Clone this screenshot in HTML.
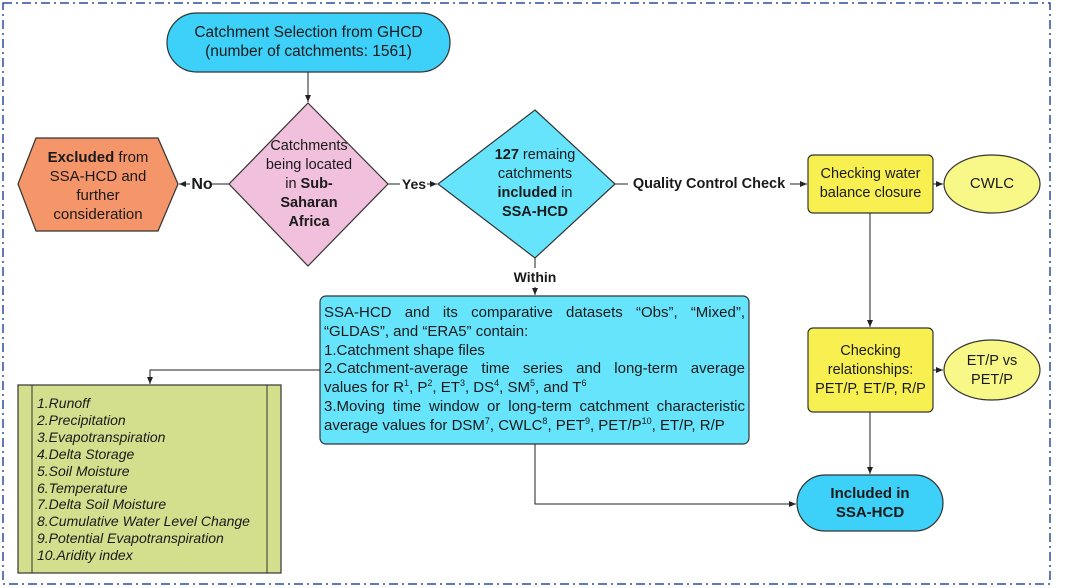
<!DOCTYPE html>
<html><head><meta charset="utf-8"><style>
body{margin:0;width:1065px;height:588px;background:#fff;position:relative;overflow:hidden;font-family:"Liberation Sans",Arial,sans-serif;color:#1a1a1a}
.t{position:absolute;text-align:center;line-height:1.2}
svg{position:absolute;left:0;top:0}
sup{font-size:9px;line-height:0}
</style></head><body>
<svg width="1065" height="588" viewBox="0 0 1065 588">
<defs><marker id="a" markerWidth="8" markerHeight="8" refX="7" refY="4" orient="auto" markerUnits="userSpaceOnUse"><path d="M0,1 L7,4 L0,7 z" fill="#222"/></marker></defs>
<rect x="3" y="3" width="1047" height="581" fill="none" stroke="#2b4fa0" stroke-width="1.5" stroke-dasharray="9,4,2,4"/>
<rect x="167" y="13" width="283" height="59" rx="29.5" fill="#3dd0f8" stroke="#333" stroke-width="1.2"/>
<polygon points="308,103 388,184 308,266 229,184" fill="#f0c0dc" stroke="#333" stroke-width="1.2"/>
<polygon points="18,184 36,138 158,138 178,184 158,231 36,231" fill="#f4956a" stroke="#333" stroke-width="1.2"/>
<polygon points="535,110 615,184 535,258 438,184" fill="#66e4fc" stroke="#333" stroke-width="1.2"/>
<rect x="320" y="296" width="429" height="148" rx="6" fill="#66e4fc" stroke="#333" stroke-width="1.2"/>
<rect x="18" y="385" width="263" height="188" fill="#d4df8e" stroke="#333" stroke-width="1.2"/>
<line x1="32" y1="385" x2="32" y2="573" stroke="#333"/><line x1="267" y1="385" x2="267" y2="573" stroke="#333"/>
<rect x="808" y="155" width="125" height="58" rx="5" fill="#f8f050" stroke="#333" stroke-width="1.2"/>
<ellipse cx="992" cy="184" rx="48" ry="29" fill="#f8f888" stroke="#333" stroke-width="1.2"/>
<rect x="808" y="328" width="125" height="84" rx="5" fill="#f8f050" stroke="#333" stroke-width="1.2"/>
<ellipse cx="992" cy="370" rx="48" ry="30" fill="#f8f888" stroke="#333" stroke-width="1.2"/>
<rect x="797" y="475" width="146" height="56" rx="28" fill="#3dd0f8" stroke="#333" stroke-width="1.2"/>
<g stroke="#222" stroke-width="1" fill="none">
<line x1="308" y1="72" x2="308" y2="102" marker-end="url(#a)"/>
<line x1="229" y1="184" x2="212" y2="184"/><line x1="190" y1="184" x2="179" y2="184" marker-end="url(#a)"/>
<line x1="388" y1="184" x2="400" y2="184"/><line x1="427" y1="184" x2="437" y2="184" marker-end="url(#a)"/>
<line x1="615" y1="184" x2="628" y2="184"/><line x1="790" y1="184" x2="807" y2="184" marker-end="url(#a)"/>
<line x1="535" y1="258" x2="535" y2="268"/><line x1="535" y1="287" x2="535" y2="295" marker-end="url(#a)"/>
<polyline points="320,370 150,370 150,384" marker-end="url(#a)"/>
<polyline points="535,444 535,504 796,504" marker-end="url(#a)"/>
<line x1="933" y1="184" x2="943" y2="184" marker-end="url(#a)"/>
<line x1="870" y1="213" x2="870" y2="327" marker-end="url(#a)"/>
<line x1="933" y1="370" x2="943" y2="370" marker-end="url(#a)"/>
<line x1="870" y1="412" x2="870" y2="474" marker-end="url(#a)"/>
</g>
</svg>
<div class="t" style="left:167px;top:24px;width:283px;font-size:15.5px">Catchment Selection from GHCD<br>(number of catchments: 1561)</div>
<div class="t" style="left:18px;top:148px;width:160px;font-size:15px;line-height:19px"><b>Excluded</b> from<br>SSA-HCD and<br>further<br>consideration</div>
<div class="t" style="left:250px;top:137px;width:118px;font-size:14.5px;line-height:19px">Catchments<br>being located<br>in <b>Sub-<br>Saharan<br>Africa</b></div>
<div class="t" style="left:190px;top:175px;width:24px;font-size:16px;font-weight:bold">No</div>
<div class="t" style="left:399px;top:176px;width:30px;font-size:14px;font-weight:bold">Yes</div>
<div class="t" style="left:468px;top:146px;width:134px;font-size:14.5px;line-height:19px"><b>127</b> remaing<br>catchments<br><b>included</b> in<br><b>SSA-HCD</b></div>
<div class="t" style="left:628px;top:176px;width:162px;font-size:14.5px;font-weight:bold">Quality Control Check</div>
<div class="t" style="left:505px;top:269px;width:60px;font-size:14px;font-weight:bold">Within</div>
<div style="position:absolute;left:324px;top:304px;width:421px;font-size:15px;line-height:18.8px;text-align:justify">SSA-HCD and its comparative datasets “Obs”, “Mixed”, “GLDAS”, and “ERA5” contain:<br>1.Catchment shape files<br><span style="display:block;text-align:justify;text-align-last:justify">2.Catchment-average time series and long-term average</span>values for R<sup>1</sup>, P<sup>2</sup>, ET<sup>3</sup>, DS<sup>4</sup>, SM<sup>5</sup>, and T<sup>6</sup><br><span style="display:block;text-align:justify;text-align-last:justify">3.Moving time window or long-term catchment characteristic</span>average values for DSM<sup>7</sup>, CWLC<sup>8</sup>, PET<sup>9</sup>, PET/P<sup>10</sup>, ET/P, R/P</div>
<div style="position:absolute;left:37px;top:395px;font-size:14px;line-height:16.9px;font-style:italic">1.Runoff<br>2.Precipitation<br>3.Evapotranspiration<br>4.Delta Storage<br>5.Soil Moisture<br>6.Temperature<br>7.Delta Soil Moisture<br>8.Cumulative Water Level Change<br>9.Potential Evapotranspiration<br>10.Aridity index</div>
<div class="t" style="left:808px;top:165px;width:125px;font-size:14.5px;line-height:19px">Checking water<br>balance closure</div>
<div class="t" style="left:944px;top:175px;width:96px;font-size:15px">CWLC</div>
<div class="t" style="left:808px;top:342px;width:125px;font-size:14.5px;line-height:19px">Checking<br>relationships:<br>PET/P, ET/P, R/P</div>
<div class="t" style="left:944px;top:352px;width:96px;font-size:14.5px;line-height:19px">ET/P vs<br>PET/P</div>
<div class="t" style="left:797px;top:484px;width:146px;font-size:15px;line-height:19px;font-weight:bold">Included in<br>SSA-HCD</div>
</body></html>
